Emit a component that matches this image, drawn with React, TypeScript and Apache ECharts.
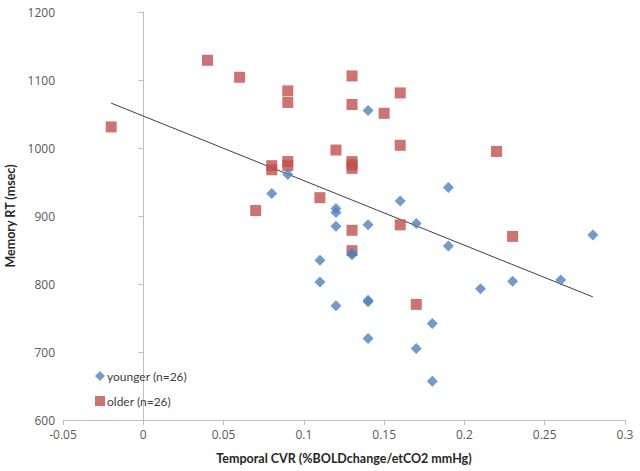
import React, { useEffect, useRef } from "react";
import * as echarts from "echarts";

const youngerX = [0.08, 0.09, 0.14, 0.19, 0.16, 0.12, 0.12, 0.12, 0.14, 0.17, 0.28, 0.13, 0.11, 0.11, 0.19, 0.21, 0.23, 0.26, 0.12, 0.14, 0.14, 0.14, 0.17, 0.18, 0.18, 0.13];
const youngerY = [933, 961, 1055, 942, 922, 911, 905, 885, 887, 889, 872, 843, 835, 803, 856, 793, 804, 806, 768, 774, 776, 720, 705, 742, 657, 845];

const olderX = [-0.02, 0.04, 0.06, 0.09, 0.09, 0.08, 0.08, 0.09, 0.09, 0.07, 0.11, 0.13, 0.13, 0.16, 0.15, 0.12, 0.16, 0.13, 0.13, 0.22, 0.13, 0.16, 0.23, 0.13, 0.17, 0.13];
const olderY = [1031, 1129, 1104, 1084, 1067, 974, 968, 980, 974, 908, 927, 1106, 1064, 1081, 1051, 997, 1004, 980, 970, 995, 879, 887, 870, 849, 770, 975];

const trendX = [-0.02, 0.28];
const trendY = [1066, 781];

const seriesNames = ["younger (n=26)", "older (n=26)"];
const xTitle = "Temporal CVR (%BOLDchange/etCO2 mmHg)";
const yTitle = "Memory RT (msec)";

const FONT = "'Open Sans', 'Liberation Sans', sans-serif";
const TFONT = "Lato, 'Liberation Sans', sans-serif";

export default function App() {
  const ref = useRef<HTMLDivElement>(null);
  useEffect(() => {
    const chart = echarts.init(ref.current!, null, { renderer: "svg" });
    const axisCommon = {
      axisLine: { show: true, lineStyle: { color: "#BFBFBF", width: 1 } },
      axisTick: { show: true, length: 5, lineStyle: { color: "#BFBFBF" } },
      splitLine: { show: false },
      axisLabel: { color: "#595959", fontSize: 12, fontFamily: FONT },
      nameTextStyle: { color: "#262626", fontSize: 12.5, fontWeight: "bold", fontFamily: TFONT },
    };
    chart.setOption({
      animation: false,
      backgroundColor: "#ffffff",
      grid: { left: 63, right: 15, top: 12, bottom: 51, outerBoundsMode: "none", containLabel: false },
      xAxis: {
        type: "value",
        min: -0.05,
        max: 0.3,
        interval: 0.05,
        ...axisCommon,
        axisLabel: {
          ...axisCommon.axisLabel,
          margin: 8,
          formatter: (v: number) => String(parseFloat(v.toFixed(2))),
        },
        name: xTitle,
        nameLocation: "middle",
        nameGap: 32,
      },
      yAxis: {
        type: "value",
        min: 600,
        max: 1200,
        interval: 100,
        ...axisCommon,
        axisLabel: { ...axisCommon.axisLabel, margin: 8, formatter: (v: number) => String(v) },
        name: yTitle,
        nameLocation: "middle",
        nameGap: 42,
      },
      legend: {
        orient: "vertical",
        left: 90,
        top: 365,
        itemWidth: 10,
        itemHeight: 10,
        itemGap: 13,
        data: [
          { name: seriesNames[0], icon: "diamond" },
          { name: seriesNames[1], icon: "rect" },
        ],
        textStyle: { color: "#404040", fontSize: 12, fontFamily: TFONT, padding: [0, 0, 0, -3] },
      },
      series: [
        {
          name: "trend",
          type: "line",
          data: trendX.map((x, i) => [x, trendY[i]]),
          showSymbol: false,
          lineStyle: { color: "#404040", width: 1 },
          z: 1,
        },
        {
          name: seriesNames[1],
          type: "scatter",
          symbol: "rect",
          symbolSize: 11,
          itemStyle: { color: "#C0504D" },
          data: olderX.map((x, i) => [x, olderY[i]]),
          z: 2,
        },
        {
          name: seriesNames[0],
          type: "scatter",
          symbol: "diamond",
          symbolSize: 11,
          itemStyle: { color: "#4F81BD" },
          data: youngerX.map((x, i) => [x, youngerY[i]]),
          z: 3,
        },
      ],
    });
    return () => chart.dispose();
  }, []);
  return <div ref={ref} style={{ width: 640, height: 471, position: "absolute", left: 0, top: 0 }} />;
}
